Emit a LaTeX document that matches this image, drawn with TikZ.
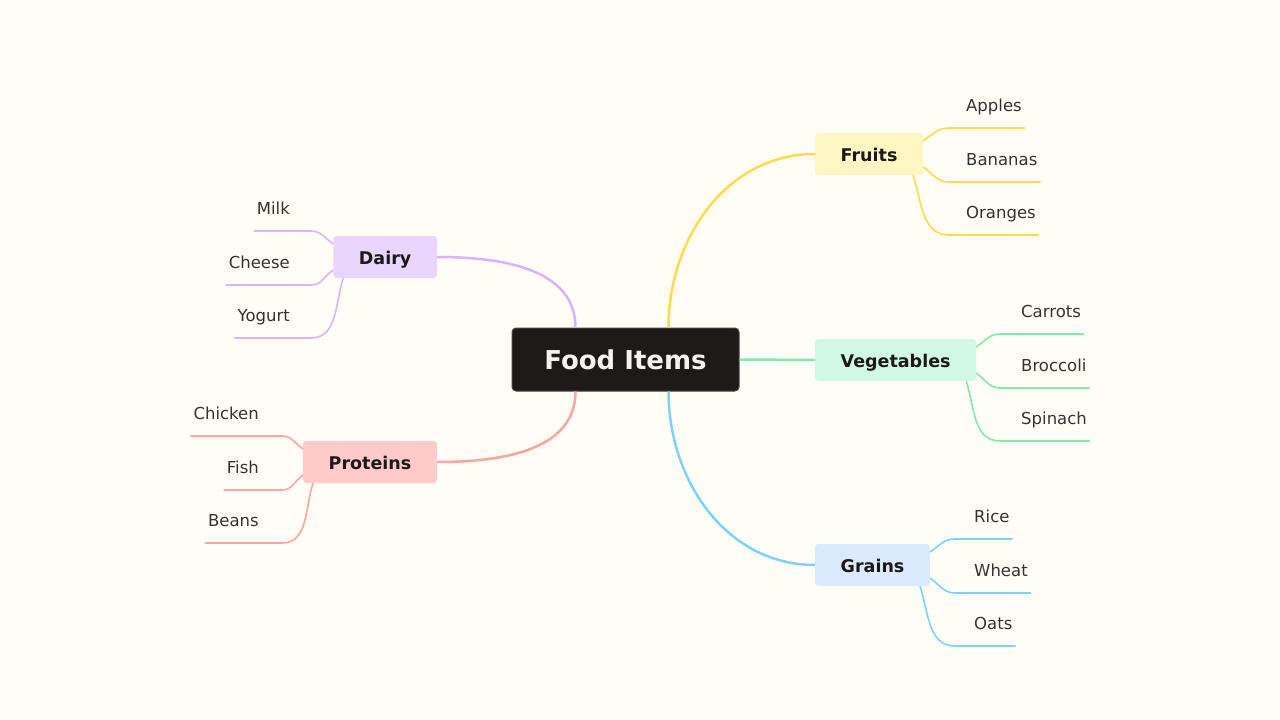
\documentclass[tikz,border=0pt]{standalone}
\usepackage{fontspec}
\setmainfont{DejaVu Sans}
\usetikzlibrary{calc,positioning}
\definecolor{bgcream}{HTML}{FFFDF6}
\definecolor{rootfill}{HTML}{1E1A17}
\definecolor{rootdraw}{HTML}{4A4642}
\definecolor{topictext}{HTML}{1C1917}
\definecolor{leaftext}{HTML}{333333}
\definecolor{fruitline}{HTML}{FCDC4B}
\definecolor{fruitfill}{HTML}{FEF7C3}
\definecolor{vegline}{HTML}{86E8AC}
\definecolor{vegfill}{HTML}{D1F8E4}
\definecolor{grainline}{HTML}{7DD3FC}
\definecolor{grainfill}{HTML}{DBEAFE}
\definecolor{dairyline}{HTML}{D8B4FE}
\definecolor{dairyfill}{HTML}{E9D5FF}
\definecolor{protline}{HTML}{FCA5A5}
\definecolor{protfill}{HTML}{FECACA}
\tikzset{
	root/.style={draw=rootdraw, fill=rootfill, line width=1pt, rounded corners=4pt,
		text=white!95!black, font=\bfseries\fontsize{26}{30}\selectfont,
		minimum width=227pt, minimum height=63pt},
	topic/.style={rounded corners=3pt, text=topictext,
		font=\bfseries\fontsize{17.5}{21}\selectfont, minimum height=42pt, inner xsep=25.5pt,
		text height=15pt, text depth=0pt},
	leaf/.style={inner xsep=3pt, inner ysep=0pt, text height=12pt, text depth=16pt,
		text=leaftext, font=\fontsize{16.5}{20}\selectfont},
	branch/.style={line width=2.5pt},
	twig/.style={line width=1.6pt},
}

\begin{document}
\begin{tikzpicture}[x=1pt,y=-1pt]
	\fill[bgcream] (0,0) rectangle (1280,720);
	\useasboundingbox (0,0) rectangle (1280,720);

	% main nodes
	\node[root] (food) at (625.5,359.5) {Food Items};
	\node[topic, fill=fruitfill, anchor=west] (fru) at (815,154) {Fruits};
	\node[topic, fill=vegfill, anchor=west] (veg) at (815,360) {Vegetables};
	\node[topic, fill=grainfill, anchor=west] (gra) at (815,565) {Grains};
	\node[topic, fill=dairyfill, anchor=east] (dai) at (437,257) {Dairy};
	\node[topic, fill=protfill, anchor=east] (pro) at (437,462) {Proteins};

	% leaves
	\node[leaf, anchor=south west] (apl) at (963,128) {Apples};
	\node[leaf, anchor=south west] (ban) at (963,182) {Bananas};
	\node[leaf, anchor=south west] (ora) at (963,235) {Oranges};
	\node[leaf, anchor=south west] (car) at (1018,334) {Carrots};
	\node[leaf, anchor=south west] (bro) at (1018,388) {Broccoli};
	\node[leaf, anchor=south west] (spi) at (1018,441) {Spinach};
	\node[leaf, anchor=south west] (ric) at (971,539) {Rice};
	\node[leaf, anchor=south west] (whe) at (971,593) {Wheat};
	\node[leaf, anchor=south west] (oat) at (971,646) {Oats};
	\node[leaf, anchor=south east] (mil) at (293,231) {Milk};
	\node[leaf, anchor=south east] (che) at (293,285) {Cheese};
	\node[leaf, anchor=south east] (yog) at (293,338) {Yogurt};
	\node[leaf, anchor=south east] (chi) at (262,436) {Chicken};
	\node[leaf, anchor=south east] (fis) at (262,490) {Fish};
	\node[leaf, anchor=south east] (bea) at (262,543) {Beans};

	% branches
	\draw[branch, fruitline] ([xshift=43pt]food.north) to[out=90,in=180] (fru.west);
	\draw[branch, vegline] (food.east) -- (veg.west);
	\draw[branch, grainline] ([xshift=43pt]food.south) to[out=-90,in=180] (gra.west);
	\draw[branch, dairyline] ([xshift=-50pt]food.north) to[out=90,in=0] (dai.east);
	\draw[branch, protline] ([xshift=-50pt]food.south) to[out=-90,in=0] (pro.east);

	% twigs
	\draw[twig, fruitline] ([yshift=13pt]fru.east) to[out=35,in=180] ([xshift=-14pt]apl.south west) -- (apl.south east);
	\draw[twig, fruitline] ([yshift=-13pt]fru.east) to[out=-35,in=180] ([xshift=-14pt]ban.south west) -- (ban.south east);
	\draw[twig, fruitline] ([xshift=-10pt]fru.south east) to[out=-72,in=180] ([xshift=-14pt]ora.south west) -- (ora.south east);
	\draw[twig, vegline] ([yshift=13pt]veg.east) to[out=35,in=180] ([xshift=-18pt]car.south west) -- (car.south east);
	\draw[twig, vegline] ([yshift=-13pt]veg.east) to[out=-35,in=180] ([xshift=-18pt]bro.south west) -- (bro.south east);
	\draw[twig, vegline] ([xshift=-10pt]veg.south east) to[out=-72,in=180] ([xshift=-18pt]spi.south west) -- (spi.south east);
	\draw[twig, grainline] ([yshift=13pt]gra.east) to[out=35,in=180] ([xshift=-16pt]ric.south west) -- (ric.south east);
	\draw[twig, grainline] ([yshift=-13pt]gra.east) to[out=-35,in=180] ([xshift=-16pt]whe.south west) -- (whe.south east);
	\draw[twig, grainline] ([xshift=-10pt]gra.south east) to[out=-72,in=180] ([xshift=-16pt]oat.south west) -- (oat.south east);
	\draw[twig, dairyline] ([yshift=13pt]dai.west) to[out=145,in=0] ([xshift=18pt]mil.south east) -- (mil.south west);
	\draw[twig, dairyline] ([yshift=-13pt]dai.west) to[out=-145,in=0] ([xshift=18pt]che.south east) -- (che.south west);
	\draw[twig, dairyline] ([xshift=10pt]dai.south west) to[out=-108,in=0] ([xshift=18pt]yog.south east) -- (yog.south west);
	\draw[twig, protline] ([yshift=13pt]pro.west) to[out=145,in=0] ([xshift=20pt]chi.south east) -- (chi.south west);
	\draw[twig, protline] ([yshift=-13pt]pro.west) to[out=-145,in=0] ([xshift=20pt]fis.south east) -- (fis.south west);
	\draw[twig, protline] ([xshift=10pt]pro.south west) to[out=-108,in=0] ([xshift=20pt]bea.south east) -- (bea.south west);
\end{tikzpicture}
\end{document}
